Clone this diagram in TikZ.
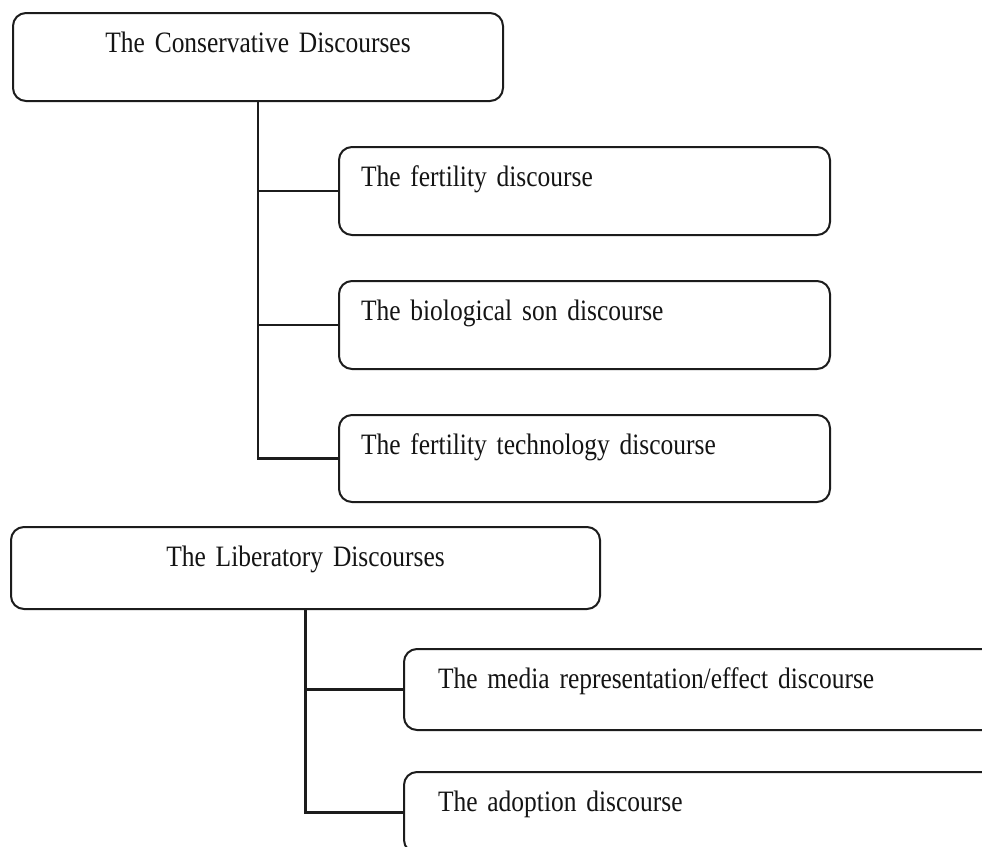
\documentclass[tikz,border=0pt]{standalone}
\usepackage{fontspec}
\setmainfont[FakeStretch=0.86]{Liberation Serif}
\definecolor{linec}{RGB}{28,28,28}
\definecolor{txtc}{RGB}{20,20,20}
\newcommand{\boxfont}{\fontsize{29.6}{34}\selectfont\spaceskip=6pt plus 1pt minus 1pt\relax}
\begin{document}
\begin{tikzpicture}[x=1pt,y=-1pt,
  box/.style={draw=linec, line width=2pt, rounded corners=13pt, anchor=north west,
    inner ysep=0pt, text=txtc, font=\boxfont, text height=39pt},
  headbox/.style={box, align=center, inner xsep=0pt},
  childbox/.style={box, align=left},
  conn/.style={draw=linec, line width=2.6pt}]
\useasboundingbox (0,0) rectangle (982,846);
\clip (0,0) rectangle (982,846);
\fill[white] (0,0) rectangle (982,846);

% Conservative group
\node[headbox, text width=490pt, text depth=49pt] (cons) at (12,12) {The Conservative Discourses};
\node[childbox, inner xsep=22pt, text width=447pt, text depth=49pt] (fert) at (338,146) {The fertility discourse};
\node[childbox, inner xsep=22pt, text width=447pt, text depth=49pt] (bio) at (338,280) {The biological son discourse};
\node[childbox, inner xsep=22pt, text width=447pt, text depth=48pt] (tech) at (338,414) {The fertility technology discourse};

\draw[conn] (cons.south) |- (fert.west);
\draw[conn] (cons.south) |- (bio.west);
\draw[conn] (cons.south) |- (tech.west);

% Liberatory group
\node[headbox, text width=589pt, text depth=43pt] (lib) at (10,526) {The Liberatory Discourses};
\node[childbox, inner xsep=34pt, text width=529pt, text depth=42pt] (media) at (403,648) {The media representation/effect discourse};
\node[childbox, inner xsep=34pt, text width=529pt, text depth=42pt] (adopt) at (403,771) {The adoption discourse};

\draw[conn] (lib.south) |- (media.west);
\draw[conn] (lib.south) |- (adopt.west);
\end{tikzpicture}
\end{document}
